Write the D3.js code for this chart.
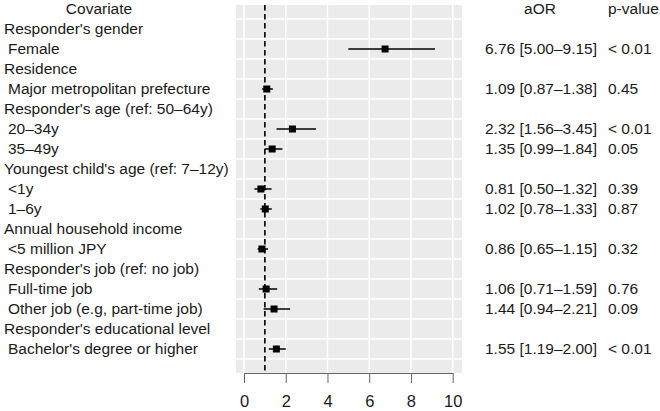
<!DOCTYPE html>
<html>
<head>
<meta charset="utf-8">
<script src="https://cdn.jsdelivr.net/npm/d3@7"></script>
<style>
  body { margin: 0; background: #fff; }
  text { font-family: "Liberation Sans", Arial, sans-serif; fill: #1a1a1a; }
</style>
</head>
<body>
<div id="chart"></div>
<script>
// rows, top to bottom; null estimate = group heading
var labels = ["Responder's gender", "Female", "Residence", "Major metropolitan prefecture",
  "Responder's age (ref: 50\u201364y)", "20\u201334y", "35\u201349y",
  "Youngest child's age (ref: 7\u201312y)", "<1y", "1\u20136y",
  "Annual household income", "<5 million JPY",
  "Responder's job (ref: no job)", "Full-time job", "Other job (e.g, part-time job)",
  "Responder's educational level", "Bachelor's degree or higher"];
var isGroup = [1, 0, 1, 0, 1, 0, 0, 1, 0, 0, 1, 0, 1, 0, 0, 1, 0];
var aor   = [null, 6.76, null, 1.09, null, 2.32, 1.35, null, 0.81, 1.02, null, 0.86, null, 1.06, 1.44, null, 1.55];
var lower = [null, 5.00, null, 0.87, null, 1.56, 0.99, null, 0.50, 0.78, null, 0.65, null, 0.71, 0.94, null, 1.19];
var upper = [null, 9.15, null, 1.38, null, 3.45, 1.84, null, 1.32, 1.33, null, 1.15, null, 1.59, 2.21, null, 2.00];
var pvals = [null, "< 0.01", null, "0.45", null, "< 0.01", "0.05", null, "0.39", "0.87", null, "0.32", null, "0.76", "0.09", null, "< 0.01"];
var xTicks = [0, 2, 4, 6, 8, 10];

var W = 660, H = 411;
var FS = "15.5px";
var svg = d3.select("#chart").append("svg").attr("width", W).attr("height", H);

var panel = {left: 236, right: 462, top: 5, bottom: 373};
var x = d3.scaleLinear().domain([0, 10]).range([244, 452.7]);
// row 0 is the "Covariate" header row
var y = function(i) { return 9 + 20 * i; };

svg.append("rect").attr("x", panel.left).attr("y", panel.top)
  .attr("width", panel.right - panel.left).attr("height", panel.bottom - panel.top)
  .attr("fill", "#ebebeb");

// horizontal grid at row boundaries
d3.range(0, labels.length + 1).forEach(function(i) {
  svg.append("line").attr("x1", panel.left).attr("x2", panel.right)
    .attr("y1", y(i) + 10).attr("y2", y(i) + 10)
    .attr("stroke", "#fff").attr("stroke-width", 1.5);
});
xTicks.forEach(function(t) {
  svg.append("line").attr("x1", x(t)).attr("x2", x(t))
    .attr("y1", panel.top).attr("y2", panel.bottom)
    .attr("stroke", "#fff").attr("stroke-width", 1.5);
});

// reference line at 1
svg.append("line").attr("x1", x(1)).attr("x2", x(1))
  .attr("y1", panel.top).attr("y2", panel.bottom)
  .attr("stroke", "#000").attr("stroke-width", 1.6).attr("stroke-dasharray", "5.5,3.5");

// estimates
labels.forEach(function(l, i) {
  if (aor[i] == null) return;
  var cy = y(i + 1);
  svg.append("line").attr("x1", x(lower[i])).attr("x2", x(upper[i]))
    .attr("y1", cy).attr("y2", cy).attr("stroke", "#000").attr("stroke-width", 1.5);
  svg.append("rect").attr("x", x(aor[i]) - 3.5).attr("y", cy - 3.5)
    .attr("width", 7).attr("height", 7).attr("fill", "#000");
});

// x axis
var ax = svg.append("g").attr("transform", "translate(0," + panel.bottom + ")")
  .call(d3.axisBottom(x).tickValues(xTicks).tickSize(10).tickPadding(12).tickSizeOuter(0));
ax.select(".domain").attr("stroke", "#666");
ax.selectAll(".tick line").attr("stroke", "#666");
ax.selectAll(".tick text").attr("font-size", "16.5px").attr("fill", "#1a1a1a")
  .attr("font-family", "Liberation Sans, Arial, sans-serif");

// left labels
svg.append("text").attr("x", 99).attr("y", y(0)).attr("dy", "0.35em")
  .attr("text-anchor", "middle").attr("font-size", FS).text("Covariate");
labels.forEach(function(l, i) {
  svg.append("text").attr("x", isGroup[i] ? 4 : 8).attr("y", y(i + 1)).attr("dy", "0.35em")
    .attr("font-size", FS).text(l);
});

// right columns
svg.append("text").attr("x", 540).attr("y", y(0)).attr("dy", "0.35em")
  .attr("text-anchor", "middle").attr("font-size", FS).text("aOR");
svg.append("text").attr("x", 608).attr("y", y(0)).attr("dy", "0.35em")
  .attr("font-size", FS).text("p-value");
labels.forEach(function(l, i) {
  if (aor[i] == null) return;
  svg.append("text").attr("x", 485).attr("y", y(i + 1)).attr("dy", "0.35em")
    .attr("font-size", FS)
    .text(aor[i].toFixed(2) + " [" + lower[i].toFixed(2) + "\u2013" + upper[i].toFixed(2) + "]");
  svg.append("text").attr("x", 608).attr("y", y(i + 1)).attr("dy", "0.35em")
    .attr("font-size", FS).text(pvals[i]);
});
</script>
</body>
</html>
